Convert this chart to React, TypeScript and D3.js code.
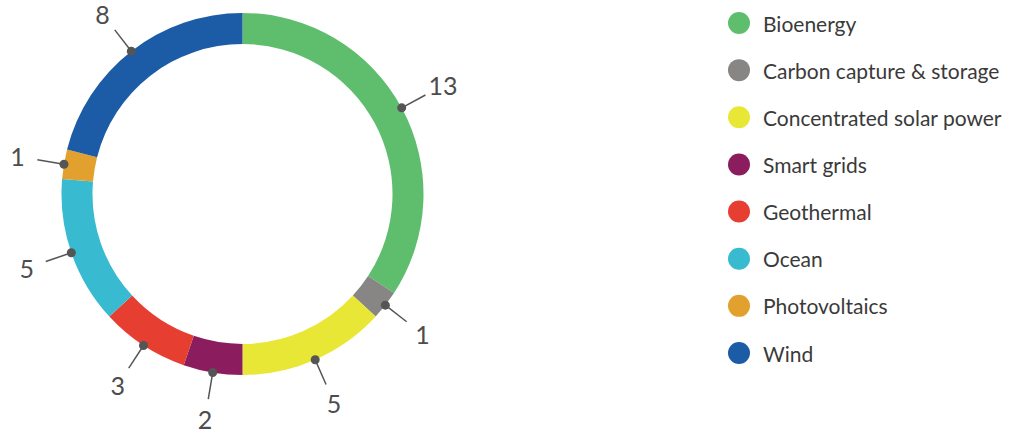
import React from "react";
import * as d3 from "d3";

const categories = [
  "Bioenergy",
  "Carbon capture & storage",
  "Concentrated solar power",
  "Smart grids",
  "Geothermal",
  "Ocean",
  "Photovoltaics",
  "Wind",
];
const values = [13, 1, 5, 2, 3, 5, 1, 8];
const colors = ["#5FBE6E", "#878685", "#E9E736", "#8B1C5E", "#E63E30", "#38BAD0", "#E2A12E", "#1C5BA6"];

const W = 1017;
const H = 433;
const cx = 242.5;
const cy = 194;
const rOuter = 181;
const rInner = 150;

export default function App() {
  const data = categories.map((c, i) => ({ name: c, value: values[i], color: colors[i] }));
  const pie = d3
    .pie<any>()
    .sort(null)
    .value((d: any) => d.value)
    .startAngle(0)
    .endAngle(2 * Math.PI);
  const arcs = pie(data);
  const arc = d3.arc<any>().innerRadius(rInner).outerRadius(rOuter);
  const pt = (a: number, r: number) => [Math.sin(a) * r, -Math.cos(a) * r];

  const legendY = d3.scalePoint<string>().domain(categories).range([23, 353]);

  return (
    <div style={{ position: "absolute", left: 0, top: 0 }}>
      <svg width={W} height={H} viewBox={`0 0 ${W} ${H}`} style={{ display: "block", background: "#fff" }}>
        <g transform={`translate(${cx},${cy})`}>
          {arcs.map((a, i) => (
            <path key={i} d={arc(a) as string} fill={a.data.color} />
          ))}
          {arcs.map((a, i) => {
            const mid = (a.startAngle + a.endAngle) / 2;
            const [x1, y1] = pt(mid, rOuter);
            const [x2, y2] = pt(mid, 208);
            const [tx, ty] = pt(mid, 228);
            return (
              <g key={"l" + i}>
                <line x1={x1} y1={y1} x2={x2} y2={y2} stroke="#555" strokeWidth={1.5} />
                <circle cx={x1} cy={y1} r={4.5} fill="#555" />
                <text
                  x={tx}
                  y={ty}
                  textAnchor="middle"
                  dominantBaseline="central"
                  fontFamily="Lato, 'Open Sans', sans-serif"
                  fontSize={25}
                  fill="#4d4d4d"
                >
                  {a.data.value}
                </text>
              </g>
            );
          })}
        </g>
        <g>
          {categories.map((c, i) => (
            <g key={c} transform={`translate(739,${legendY(c)})`}>
              <circle r={11} fill={colors[i]} />
              <text
                x={24}
                dominantBaseline="central"
                fontFamily="Lato, 'Open Sans', sans-serif"
                fontSize={21}
                fill="#3a3a3a"
              >
                {c}
              </text>
            </g>
          ))}
        </g>
      </svg>
    </div>
  );
}
